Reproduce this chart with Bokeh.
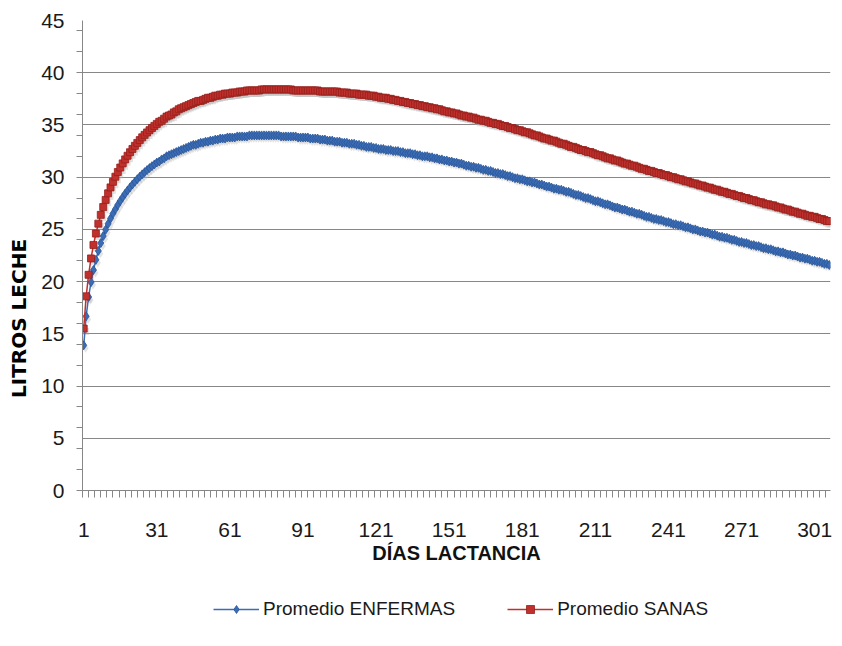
import math
from bokeh.plotting import figure
from bokeh.layouts import row, column
from bokeh.models import FixedTicker, Legend, LegendItem, Label, Range1d
from bokeh.embed import file_html
from bokeh.resources import INLINE

# Promedio ENFERMAS (litros leche por día de lactancia, días 1..307)
enfermas = [
    13.90, 16.68, 18.53, 19.95, 21.11, 22.09, 22.94, 23.69, 24.36, 24.97,
    25.53, 26.04, 26.51, 26.94, 27.35, 27.73, 28.08, 28.42, 28.73, 29.02,
    29.30, 29.56, 29.81, 30.05, 30.27, 30.48, 30.68, 30.87, 31.05, 31.22,
    31.4, 31.5, 31.7, 31.8, 32.0, 32.1, 32.2, 32.3, 32.4, 32.5,
    32.6, 32.7, 32.8, 32.9, 33.0, 33.1, 33.1, 33.2, 33.3, 33.3,
    33.4, 33.4, 33.5, 33.5, 33.6, 33.6, 33.7, 33.7, 33.7, 33.8,
    33.8, 33.8, 33.8, 33.9, 33.9, 33.9, 33.9, 33.9, 34.0, 34.0,
    34.0, 34.0, 34.0, 34.0, 34.0, 34.0, 34.0, 34.0, 34.0, 34.0,
    34.0, 33.9, 33.9, 33.9, 33.9, 33.9, 33.9, 33.9, 33.8, 33.8,
    33.8, 33.8, 33.8, 33.7, 33.7, 33.7, 33.7, 33.6, 33.6, 33.6,
    33.5, 33.5, 33.5, 33.4, 33.4, 33.4, 33.3, 33.3, 33.3, 33.2,
    33.2, 33.2, 33.1, 33.1, 33.0, 33.0, 32.9, 32.9, 32.9, 32.8,
    32.8, 32.7, 32.7, 32.7, 32.6, 32.6, 32.6, 32.5, 32.5, 32.5,
    32.4, 32.4, 32.3, 32.3, 32.3, 32.2, 32.2, 32.1, 32.1, 32.0,
    32.0, 32.0, 31.9, 31.9, 31.8, 31.8, 31.7, 31.7, 31.6, 31.6,
    31.5, 31.5, 31.4, 31.4, 31.3, 31.3, 31.2, 31.1, 31.1, 31.0,
    31.0, 30.9, 30.9, 30.8, 30.7, 30.7, 30.6, 30.6, 30.5, 30.4,
    30.4, 30.3, 30.3, 30.2, 30.1, 30.1, 30.0, 29.9, 29.9, 29.8,
    29.8, 29.7, 29.6, 29.6, 29.5, 29.5, 29.4, 29.3, 29.3, 29.2,
    29.1, 29.1, 29.0, 28.9, 28.9, 28.8, 28.8, 28.7, 28.6, 28.6,
    28.5, 28.4, 28.3, 28.3, 28.2, 28.1, 28.0, 28.0, 27.9, 27.8,
    27.7, 27.7, 27.6, 27.5, 27.4, 27.4, 27.3, 27.2, 27.1, 27.1,
    27.0, 26.9, 26.9, 26.8, 26.7, 26.7, 26.6, 26.5, 26.5, 26.4,
    26.3, 26.2, 26.2, 26.1, 26.0, 26.0, 25.9, 25.9, 25.8, 25.7,
    25.7, 25.6, 25.5, 25.5, 25.4, 25.4, 25.3, 25.2, 25.2, 25.1,
    25.0, 25.0, 24.9, 24.8, 24.8, 24.7, 24.7, 24.6, 24.5, 24.5,
    24.4, 24.3, 24.3, 24.2, 24.2, 24.1, 24.0, 24.0, 23.9, 23.8,
    23.8, 23.7, 23.7, 23.6, 23.5, 23.5, 23.4, 23.4, 23.3, 23.2,
    23.2, 23.1, 23.1, 23.0, 22.9, 22.9, 22.8, 22.8, 22.7, 22.6,
    22.6, 22.5, 22.5, 22.4, 22.3, 22.3, 22.2, 22.2, 22.1, 22.0,
    22.0, 21.9, 21.9, 21.8, 21.7, 21.7, 21.6,
]

# Promedio SANAS
sanas = [
    15.50, 18.59, 20.65, 22.22, 23.51, 24.60, 25.55, 26.39, 27.14, 27.82,
    28.45, 29.02, 29.55, 30.04, 30.49, 30.92, 31.32, 31.70, 32.05, 32.39,
    32.70, 33.00, 33.28, 33.55, 33.81, 34.05, 34.28, 34.50, 34.71, 34.91,
    35.1, 35.3, 35.4, 35.6, 35.8, 35.9, 36.0, 36.2, 36.3, 36.5,
    36.6, 36.7, 36.8, 36.9, 37.0, 37.1, 37.2, 37.3, 37.3, 37.4,
    37.5, 37.6, 37.6, 37.7, 37.8, 37.8, 37.9, 37.9, 38.0, 38.0,
    38.0, 38.1, 38.1, 38.1, 38.2, 38.2, 38.2, 38.3, 38.3, 38.3,
    38.3, 38.3, 38.3, 38.4, 38.4, 38.4, 38.4, 38.4, 38.4, 38.4,
    38.4, 38.4, 38.4, 38.4, 38.4, 38.4, 38.3, 38.3, 38.3, 38.3,
    38.3, 38.3, 38.3, 38.3, 38.3, 38.3, 38.3, 38.2, 38.2, 38.2,
    38.2, 38.2, 38.2, 38.2, 38.2, 38.1, 38.1, 38.1, 38.1, 38.0,
    38.0, 38.0, 38.0, 37.9, 37.9, 37.9, 37.9, 37.8, 37.8, 37.8,
    37.7, 37.7, 37.6, 37.6, 37.6, 37.5, 37.5, 37.4, 37.4, 37.3,
    37.3, 37.2, 37.2, 37.1, 37.1, 37.0, 37.0, 36.9, 36.9, 36.8,
    36.8, 36.7, 36.7, 36.6, 36.6, 36.5, 36.5, 36.4, 36.3, 36.3,
    36.2, 36.2, 36.1, 36.1, 36.0, 35.9, 35.9, 35.8, 35.8, 35.7,
    35.7, 35.6, 35.5, 35.5, 35.4, 35.4, 35.3, 35.2, 35.2, 35.1,
    35.1, 35.0, 34.9, 34.9, 34.8, 34.7, 34.7, 34.6, 34.5, 34.5,
    34.4, 34.3, 34.3, 34.2, 34.1, 34.0, 34.0, 33.9, 33.8, 33.7,
    33.7, 33.6, 33.5, 33.5, 33.4, 33.3, 33.2, 33.2, 33.1, 33.0,
    32.9, 32.9, 32.8, 32.7, 32.6, 32.6, 32.5, 32.4, 32.4, 32.3,
    32.2, 32.1, 32.1, 32.0, 31.9, 31.8, 31.8, 31.7, 31.6, 31.6,
    31.5, 31.4, 31.3, 31.3, 31.2, 31.1, 31.1, 31.0, 30.9, 30.8,
    30.8, 30.7, 30.6, 30.6, 30.5, 30.4, 30.4, 30.3, 30.2, 30.2,
    30.1, 30.0, 30.0, 29.9, 29.8, 29.8, 29.7, 29.6, 29.6, 29.5,
    29.4, 29.4, 29.3, 29.2, 29.2, 29.1, 29.0, 29.0, 28.9, 28.8,
    28.8, 28.7, 28.6, 28.6, 28.5, 28.4, 28.4, 28.3, 28.2, 28.2,
    28.1, 28.0, 28.0, 27.9, 27.8, 27.8, 27.7, 27.6, 27.6, 27.5,
    27.4, 27.4, 27.3, 27.3, 27.2, 27.1, 27.1, 27.0, 26.9, 26.9,
    26.8, 26.7, 26.7, 26.6, 26.5, 26.5, 26.4, 26.3, 26.3, 26.2,
    26.2, 26.1, 26.0, 26.0, 25.9, 25.8, 25.8,
]

x_tick_days = [1, 31, 61, 91, 121, 151, 181, 211, 241, 271, 301]
y_tick_values = [0, 5, 10, 15, 20, 25, 30, 35, 40, 45]

series_names = ["Promedio ENFERMAS", "Promedio SANAS"]
x_title = "DÍAS LACTANCIA"
y_title = "LITROS LECHE"

days_e = list(range(1, len(enfermas) + 1))
days_s = list(range(1, len(sanas) + 1))

BLUE_FILL, BLUE_LINE = "#3b6cb6", "#2a5597"
RED_FILL, RED_LINE = "#c0302c", "#951f1c"
AXIS_GRAY = "#878787"
TICK_FONT = "Liberation Sans"

LEFT_W = 36
MAIN_W = 798
MAIN_H = 575
LEG_H = 65


def bare_figure(w, h):
    f = figure(width=w, height=h, output_backend="svg", toolbar_location=None,
               x_range=Range1d(0, 1), y_range=Range1d(0, 1),
               x_axis_location=None, y_axis_location=None, min_border=0)
    f.outline_line_color = None
    f.xgrid.visible = False
    f.ygrid.visible = False
    return f


# ---------------- main chart ----------------
p = figure(width=MAIN_W, height=MAIN_H, output_backend="svg", toolbar_location=None,
           x_range=Range1d(0.5, 307.5), y_range=Range1d(0, 45),
           min_border_left=46, min_border_right=4, min_border_top=20,
           min_border_bottom=85)
p.outline_line_color = None
p.background_fill_color = "white"
p.border_fill_color = "white"

p.xgrid.visible = False
p.ygrid.grid_line_color = AXIS_GRAY
p.ygrid.grid_line_width = 1

p.yaxis.ticker = FixedTicker(ticks=y_tick_values, minor_ticks=list(range(0, 45, 2)))
p.yaxis.axis_line_color = AXIS_GRAY
p.yaxis.major_tick_out = 0
p.yaxis.major_tick_in = 0
p.yaxis.minor_tick_out = 6
p.yaxis.minor_tick_in = 0
p.yaxis.minor_tick_line_color = AXIS_GRAY
p.yaxis.major_label_text_font = TICK_FONT
p.yaxis.major_label_text_font_size = "21px"
p.yaxis.major_label_text_color = "#1a1a1a"
p.yaxis.major_label_standoff = 12

p.xaxis.ticker = FixedTicker(ticks=x_tick_days,
                             minor_ticks=[0.5 + 2.5 * k for k in range(123)])
p.xaxis.axis_line_color = AXIS_GRAY
p.xaxis.major_tick_out = 0
p.xaxis.major_tick_in = 0
p.xaxis.minor_tick_out = 7
p.xaxis.minor_tick_in = 0
p.xaxis.minor_tick_line_color = AXIS_GRAY
p.xaxis.major_label_text_font = TICK_FONT
p.xaxis.major_label_text_font_size = "21px"
p.xaxis.major_label_text_color = "#1a1a1a"
p.xaxis.major_label_standoff = 25
p.xaxis.axis_label = x_title
p.xaxis.axis_label_text_font = TICK_FONT
p.xaxis.axis_label_text_font_style = "bold"
p.xaxis.axis_label_text_font_size = "20px"
p.xaxis.axis_label_text_color = "#111111"
p.xaxis.axis_label_standoff = 2

# soft shadows under the series
p.scatter([d + 0.8 for d in days_e], [v - 0.28 for v in enfermas], marker="diamond",
          size=9, fill_color="#b0b0b0", line_color=None, alpha=0.35)
p.scatter([d + 0.8 for d in days_s], [v - 0.28 for v in sanas], marker="square",
          size=7, fill_color="#b0b0b0", line_color=None, alpha=0.35)

p.line(days_e, enfermas, line_color=BLUE_FILL, line_width=1.5)
p.scatter(days_e, enfermas, marker="diamond", size=9,
          fill_color=BLUE_FILL, line_color=BLUE_LINE, line_width=0.8)
p.line(days_s, sanas, line_color=RED_FILL, line_width=1.5)
p.scatter(days_s, sanas, marker="square", size=7,
          fill_color=RED_FILL, line_color=RED_LINE, line_width=0.8)

# ---------------- y title (left strip) ----------------
left = bare_figure(LEFT_W, MAIN_H + LEG_H)
left.add_layout(Label(x=18, y=MAIN_H + LEG_H - 318, x_units="screen", y_units="screen",
                      text=y_title, angle=math.pi / 2, text_align="center",
                      text_baseline="middle", text_font="DejaVu Sans",
                      text_font_style="bold", text_font_size="20px",
                      text_color="#000000"))

# ---------------- legend strip ----------------
# legend-only renderers (their single sample sits outside the strip's visible range)
leg = bare_figure(MAIN_W, LEG_H)
dummy_x, dummy_y = [5], [5]
le = leg.line(x=dummy_x, y=dummy_y, line_color=BLUE_FILL, line_width=1.5)
se = leg.scatter(x=dummy_x, y=dummy_y, marker="diamond", size=9,
                 fill_color=BLUE_FILL, line_color=BLUE_LINE, line_width=0.8)
ls = leg.line(x=dummy_x, y=dummy_y, line_color=RED_FILL, line_width=1.5)
ss = leg.scatter(x=dummy_x, y=dummy_y, marker="square", size=7,
                 fill_color=RED_FILL, line_color=RED_LINE, line_width=0.8)
legend = Legend(items=[LegendItem(label=series_names[0], renderers=[le, se]),
                       LegendItem(label=series_names[1], renderers=[ls, ss])],
                orientation="horizontal", location=(131, 20), spacing=52,
                glyph_width=46, glyph_height=20, label_standoff=4,
                label_text_font=TICK_FONT, label_text_font_size="19px",
                label_text_color="#1a1a1a", border_line_color=None,
                background_fill_alpha=0, margin=0, padding=4)
leg.add_layout(legend)

layout = row(left, column(p, leg, spacing=0), spacing=0)
open("out.html", "w").write(file_html(layout, INLINE))
